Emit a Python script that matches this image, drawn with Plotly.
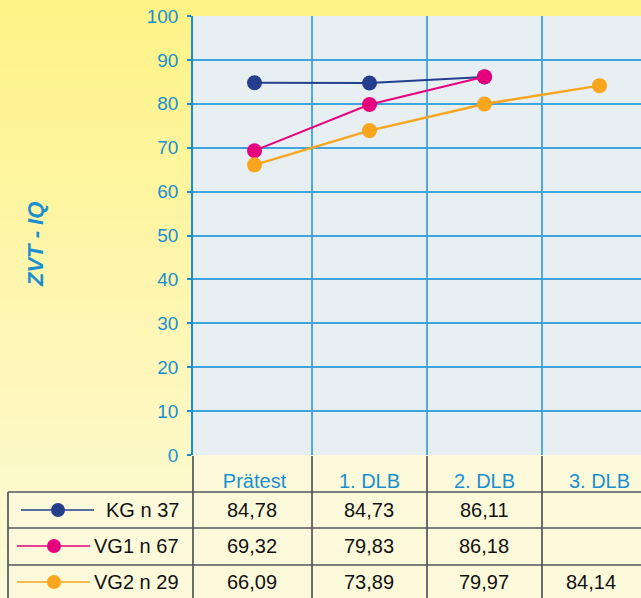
import plotly.graph_objects as go

categories = ["Prätest", "1. DLB", "2. DLB", "3. DLB"]
series_names = ["KG n 37", "VG1 n 67", "VG2 n 29"]
kg_values = [84.78, 84.73, 86.11]
vg1_values = [69.32, 79.83, 86.18]
vg2_values = [66.09, 73.89, 79.97, 84.14]
colors = ["#243E8C", "#E6007E", "#F9A61E"]
line_widths = [2, 2, 2.5]
y_ticks = list(range(0, 101, 10))

W, H = 641, 598
px = lambda x: x / W
py = lambda y: 1 - y / H

PLOT_L, PLOT_T, PLOT_B = 193, 16, 455

fig = go.Figure()

all_values = [kg_values, vg1_values, vg2_values]
for name, vals, col, lw in zip(series_names, all_values, colors, line_widths):
    fig.add_trace(go.Scatter(
        x=categories[:len(vals)], y=vals, mode="lines+markers", name=name,
        line=dict(color=col, width=lw), marker=dict(color=col, size=15),
        showlegend=False, cliponaxis=False))

shapes = []
# gradient background
top = (254, 243, 134)
mid = (254, 246, 176)
bot = (253, 251, 218)
N = 60
for i in range(N):
    t = i / (N - 1)
    if t < 0.5:
        a, b, u = top, mid, t / 0.5
    else:
        a, b, u = mid, bot, (t - 0.5) / 0.5
    c = tuple(int(round(a[k] + (b[k] - a[k]) * u)) for k in range(3))
    y0 = i * H / N
    y1 = (i + 1) * H / N + 1
    shapes.append(dict(type="rect", xref="paper", yref="paper", layer="below",
                       x0=0, x1=1, y0=py(y1), y1=py(y0),
                       fillcolor="rgb(%d,%d,%d)" % c, line=dict(width=0)))
# plot area background
shapes.append(dict(type="rect", xref="paper", yref="paper", layer="below",
                   x0=px(PLOT_L), x1=1, y0=py(PLOT_B), y1=py(PLOT_T),
                   fillcolor="#E8EFF3", line=dict(width=0)))
# table cell background (below plot)
shapes.append(dict(type="rect", xref="paper", yref="paper", layer="below",
                   x0=px(8), x1=1, y0=0, y1=py(492),
                   fillcolor="#FDFADB", line=dict(width=0)))
shapes.append(dict(type="rect", xref="paper", yref="paper", layer="below",
                   x0=px(PLOT_L), x1=1, y0=py(492), y1=py(PLOT_B),
                   fillcolor="#FDFADB", line=dict(width=0)))

# vertical grid lines at category boundaries
for b in [0.5, 1.5, 2.5]:
    shapes.append(dict(type="line", xref="x", yref="paper", layer="below",
                       x0=b, x1=b, y0=py(PLOT_B), y1=py(PLOT_T),
                       line=dict(color="#1E93D4", width=1.5)))

tc = "#3c3c4e"
# table vertical lines
for b in [0.5, 1.5, 2.5]:
    shapes.append(dict(type="line", xref="x", yref="paper",
                       x0=b, x1=b, y0=0, y1=py(PLOT_B + 1),
                       line=dict(color=tc, width=1.5)))
shapes.append(dict(type="line", xref="paper", yref="paper",
                   x0=px(PLOT_L), x1=px(PLOT_L), y0=0, y1=py(PLOT_B + 1),
                   line=dict(color=tc, width=1.5)))
shapes.append(dict(type="line", xref="paper", yref="paper",
                   x0=px(8), x1=px(8), y0=0, y1=py(492),
                   line=dict(color=tc, width=1.5)))
# table horizontal lines
for yv in [492, 528, 565]:
    shapes.append(dict(type="line", xref="paper", yref="paper",
                       x0=px(8), x1=1, y0=py(yv), y1=py(yv),
                       line=dict(color="#55555f", width=1.5)))

annotations = []
row_y = [510, 546, 582]
col_x = [252, 369, 484, 591]
for r, (name, vals, col, lw) in enumerate(zip(series_names, all_values, colors, line_widths)):
    yy = py(row_y[r])
    lx0, lx1, mx = (21, 94, 58) if r == 0 else (17, 90, 54)
    shapes.append(dict(type="line", xref="paper", yref="paper",
                       x0=px(lx0), x1=px(lx1), y0=yy, y1=yy,
                       line=dict(color=col, width=1.5)))
    shapes.append(dict(type="circle", xref="paper", yref="paper",
                       x0=px(mx - 7), x1=px(mx + 7), y0=py(row_y[r] + 7), y1=py(row_y[r] - 7),
                       fillcolor=col, line=dict(width=0)))
    annotations.append(dict(x=px(181), y=yy, xref="paper", yref="paper",
                            text=name, showarrow=False, xanchor="right", yanchor="middle",
                            font=dict(size=20, color="#111111")))
    for c, v in enumerate(vals):
        annotations.append(dict(x=px(col_x[c]), y=yy, xref="paper", yref="paper",
                                text=f"{v:.2f}".replace(".", ","), showarrow=False,
                                xanchor="center", yanchor="middle",
                                font=dict(size=20, color="#111111")))

annotations.append(dict(x=px(35), y=py(245), xref="paper", yref="paper",
                        text="<b><i>ZVT - IQ</i></b>", showarrow=False, textangle=-90,
                        xanchor="center", yanchor="middle",
                        font=dict(size=22, color="#1A8FD0")))

blue = "#1A8FD0"
fig.update_layout(
    width=W, height=H, margin=dict(l=0, r=0, t=0, b=0, pad=0), autosize=False,
    paper_bgcolor="rgba(0,0,0,0)", plot_bgcolor="rgba(0,0,0,0)",
    font=dict(family="Liberation Sans, Arial, sans-serif"),
    shapes=shapes, annotations=annotations,
    xaxis=dict(domain=[px(PLOT_L), 1], type="category", categoryorder="array",
               categoryarray=categories, range=[-0.535, 3.361], automargin=False,
               showgrid=False,
               ticks="outside", ticklen=8, tickcolor="rgba(0,0,0,0)",
               tickfont=dict(size=20, color=blue), showline=False, zeroline=False,
               fixedrange=True),
    yaxis=dict(domain=[py(PLOT_B), py(PLOT_T)], range=[0, 100], tickvals=y_ticks,
               automargin=False,
               showgrid=True, gridcolor="#3FA3DC", gridwidth=2,
               ticks="outside", ticklen=4, tickcolor=blue, tickwidth=1.5,
               ticklabelstandoff=5,
               showline=True, linecolor=blue, linewidth=1.5,
               tickfont=dict(size=19, color=blue), zeroline=False, fixedrange=True),
)

fig.write_html("out.html", config={"displayModeBar": False},
               post_script="document.body.style.margin='0';document.body.style.padding='0';")
